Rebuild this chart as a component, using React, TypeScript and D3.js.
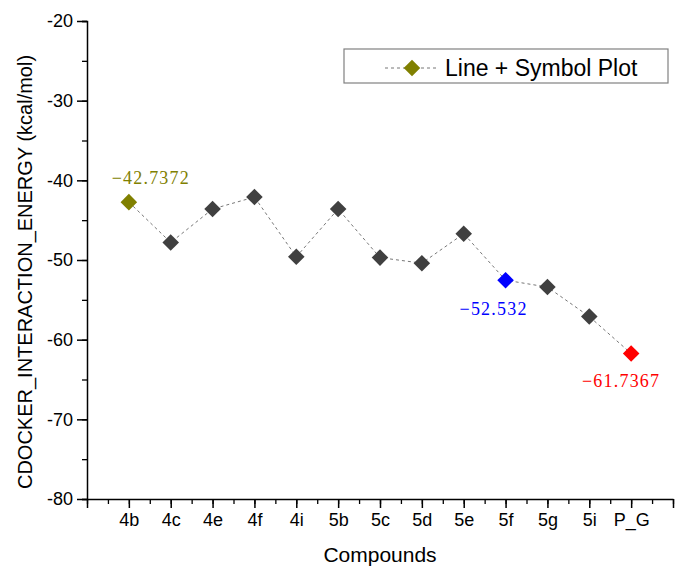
import React from "react";
import * as d3 from "d3";

const compounds = ["4b", "4c", "4e", "4f", "4i", "5b", "5c", "5d", "5e", "5f", "5g", "5i", "P_G"];
const energies = [-42.7372, -47.8, -43.6, -42.1, -49.6, -43.6, -49.7, -50.4, -46.7, -52.532, -53.4, -57.1, -61.7367];
const yTicks = [-20, -30, -40, -50, -60, -70, -80];

// highlighted points: index -> colour and label
const highlights = [
  { i: 0, color: "#808000", label: "\u221242.7372", dx: 22, dy: -18 },
  { i: 9, color: "#0000ff", label: "\u221252.532", dx: -12, dy: 35 },
  { i: 12, color: "#ff0000", label: "\u221261.7367", dx: -10, dy: 33 },
];

const width = 677;
const height = 566;
const marginLeft = 87;
const marginRight = 4;
const marginTop = 21;
const marginBottom = 67;

export default function App() {
  const ref = React.useRef<SVGSVGElement>(null);

  React.useEffect(() => {
    const svg = d3.select(ref.current);
    svg.selectAll("*").remove();

    const x = d3.scaleLinear([0, compounds.length + 1], [marginLeft, width - marginRight]);
    const y = d3.scaleLinear([-80, -20], [height - marginBottom, marginTop]);

    const font = "'Liberation Sans', Arial, sans-serif";

    // y axis
    const yAxis = svg.append("g").attr("transform", `translate(${marginLeft},0)`);
    yAxis.call(d3.axisLeft(y).tickValues(d3.range(-80, -19, 5)).tickSize(5).tickFormat(() => ""))
      .call(g => g.select(".domain").attr("stroke", "#000").attr("stroke-width", 1.5))
      .call(g => g.selectAll(".tick line").attr("stroke-width", 1.3));
    yAxis.append("g")
      .call(d3.axisLeft(y).tickValues(yTicks).tickSize(10).tickFormat(d => `${d}`))
      .call(g => g.select(".domain").remove())
      .call(g => g.selectAll(".tick line").attr("stroke-width", 1.5))
      .call(g => g.selectAll(".tick text")
        .attr("font-family", font).attr("font-size", 18).attr("fill", "#000").attr("x", -14));

    // x axis
    const xAxis = svg.append("g").attr("transform", `translate(0,${height - marginBottom})`);
    xAxis.call(d3.axisBottom(x).tickValues(d3.range(0, compounds.length + 1.01, 0.5)).tickSize(5).tickFormat(() => "").tickSizeOuter(0))
      .call(g => g.select(".domain").attr("stroke", "#000").attr("stroke-width", 1.5))
      .call(g => g.selectAll(".tick line").attr("stroke-width", 1.3));
    xAxis.append("g")
      .call(d3.axisBottom(x).tickValues(d3.range(0, compounds.length + 2)).tickSize(9)
        .tickFormat((d: any) => compounds[d - 1] ?? ""))
      .call(g => g.select(".domain").remove())
      .call(g => g.selectAll(".tick line").attr("stroke-width", 1.5))
      .call(g => g.selectAll(".tick text")
        .attr("font-family", font).attr("font-size", 18).attr("fill", "#000").attr("y", 14));

    // axis titles
    svg.append("text")
      .attr("x", (marginLeft + width - marginRight) / 2)
      .attr("y", 562)
      .attr("text-anchor", "middle")
      .attr("font-family", font)
      .attr("font-size", 21)
      .text("Compounds");
    svg.append("text")
      .attr("transform", "translate(32,272) rotate(-90)")
      .attr("text-anchor", "middle")
      .attr("font-family", font)
      .attr("font-size", 20)
      .text("CDOCKER_INTERACTION_ENERGY (kcal/mol)");

    // dashed line
    const line = d3.line<number>().x((_, i) => x(i + 1)).y(d => y(d));
    svg.append("path")
      .datum(energies)
      .attr("d", line)
      .attr("fill", "none")
      .attr("stroke", "#777")
      .attr("stroke-width", 1)
      .attr("stroke-dasharray", "3,3");

    const colorOf = (i: number) => highlights.find(h => h.i === i)?.color ?? "#404040";
    const diamond = d3.symbol().type(d3.symbolDiamond2).size(175);

    svg.append("g")
      .selectAll("path")
      .data(energies)
      .join("path")
      .attr("transform", (d, i) => `translate(${x(i + 1)},${y(d)})`)
      .attr("d", diamond)
      .attr("fill", (_, i) => colorOf(i));

    // value labels
    svg.append("g")
      .selectAll("text")
      .data(highlights)
      .join("text")
      .attr("x", h => x(h.i + 1) + h.dx)
      .attr("y", h => y(energies[h.i]) + h.dy)
      .attr("text-anchor", "middle")
      .attr("font-family", "'Liberation Serif', 'DejaVu Serif', serif")
      .attr("font-size", 18)
      .attr("letter-spacing", 1.2)
      .attr("fill", h => h.color)
      .text(h => h.label);

    // legend
    const lg = svg.append("g").attr("transform", "translate(344,49)");
    lg.append("rect")
      .attr("width", 324).attr("height", 34)
      .attr("fill", "#fff").attr("stroke", "#808080").attr("stroke-width", 1.2);
    lg.append("line")
      .attr("x1", 41).attr("x2", 94).attr("y1", 19).attr("y2", 19)
      .attr("stroke", "#777").attr("stroke-dasharray", "3,3");
    lg.append("path")
      .attr("transform", "translate(68,19)")
      .attr("d", diamond)
      .attr("fill", "#808000");
    lg.append("text")
      .attr("x", 101).attr("y", 27)
      .attr("font-family", font).attr("font-size", 23)
      .text("Line + Symbol Plot");
  }, []);

  return (
    <div style={{ position: "absolute", left: 0, top: 0 }}>
      <svg ref={ref} width={width} height={height} style={{ display: "block", background: "#fff" }} />
    </div>
  );
}
